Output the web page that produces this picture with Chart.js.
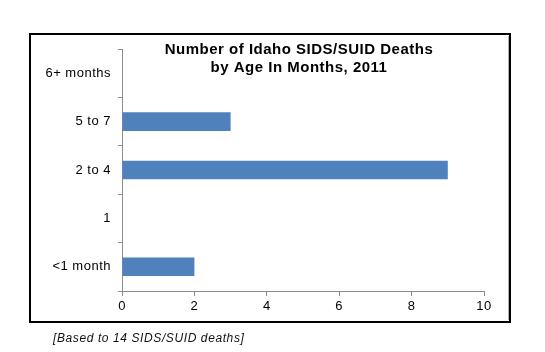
<!DOCTYPE html>
<html>
<head>
<meta charset="utf-8">
<script src="https://cdn.jsdelivr.net/npm/chart.js@4"></script>
<style>
  html, body { margin: 0; padding: 0; background: #fff; }
  #wrap { width: 545px; height: 352px; }
</style>
</head>
<body>
<div id="wrap"><canvas id="chart_ages" width="545" height="352"></canvas></div>
<script>
const ageGroups = ["6+ months", "5 to 7", "2 to 4", "1", "<1 month"];
const deaths = [0, 3, 9, 0, 2];
const xTicks = [0, 2, 4, 6, 8, 10];
const titleLines = ["Number of Idaho SIDS/SUID Deaths", "by Age In Months, 2011"];
const footnote = "[Based to 14 SIDS/SUID deaths]";

const $chart_ages = document.getElementById("chart_ages");
const FONT = "'Liberation Sans', Arial, sans-serif";

// the original text is a bit wide, so space the letters out
const spacing = {
    id: "spacing",
    beforeLayout(chart) {
        chart.ctx.letterSpacing = "0.5px";
    },
    beforeDraw(chart) {
        chart.ctx.letterSpacing = "0.5px";
    },
};

// frame, title over the plot and the note under the box
const decorations = {
    id: "decorations",
    afterDraw(chart) {
        const ctx = chart.ctx;
        ctx.save();
        ctx.letterSpacing = "0px";
        ctx.strokeStyle = "#000";
        ctx.lineWidth = 2;
        ctx.strokeRect(30, 34, 480, 288);
        ctx.strokeStyle = "#b0b0b0";
        ctx.lineWidth = 1;
        ctx.beginPath();
        ctx.moveTo(508.5, 36);
        ctx.lineTo(508.5, 320);
        ctx.stroke();

        ctx.fillStyle = "#000";
        ctx.textAlign = "center";
        ctx.textBaseline = "middle";
        ctx.letterSpacing = "0.5px";
        ctx.font = "bold 15px " + FONT;
        ctx.fillText(titleLines[0], 299, 50);
        ctx.fillText(titleLines[1], 299, 68);

        ctx.textAlign = "left";
        ctx.letterSpacing = "0.6px";
        ctx.font = "italic 12px " + FONT;
        ctx.fillStyle = "#111";
        ctx.fillText(footnote, 53, 339);
        ctx.restore();
    },
};

new Chart($chart_ages, {
    type: "bar",
    data: {
        labels: ageGroups,
        datasets: [
            {
                label: "Deaths",
                data: deaths,
                backgroundColor: "#4F81BD",
                borderWidth: 0,
                barPercentage: 0.385,
                categoryPercentage: 1,
            },
        ],
    },
    options: {
        indexAxis: "y",
        responsive: false,
        animation: false,
        layout: {
            padding: { top: 49, right: 61, left: 0, bottom: 0 },
        },
        plugins: {
            legend: { display: false },
            title: { display: false },
            tooltip: { enabled: false },
        },
        scales: {
            x: {
                min: 0,
                max: 10,
                afterBuildTicks(scale) {
                    scale.ticks = xTicks.map((v) => ({ value: v }));
                },
                afterFit(scale) {
                    scale.height = 61;
                },
                grid: {
                    drawOnChartArea: false,
                    drawTicks: true,
                    tickLength: 5,
                    color: "#8c8c8c",
                },
                border: { color: "#8c8c8c" },
                ticks: {
                    color: "#000",
                    padding: 3,
                    maxRotation: 0,
                    font: { family: FONT, size: 13 },
                },
            },
            y: {
                afterFit(scale) {
                    scale.width = 122;
                },
                grid: {
                    offset: true,
                    drawOnChartArea: false,
                    drawTicks: true,
                    tickLength: 4,
                    color: "#8c8c8c",
                },
                border: { color: "#8c8c8c" },
                ticks: {
                    color: "#000",
                    padding: 7,
                    font: { family: FONT, size: 13 },
                },
            },
        },
    },
    plugins: [spacing, decorations],
});
</script>
</body>
</html>
